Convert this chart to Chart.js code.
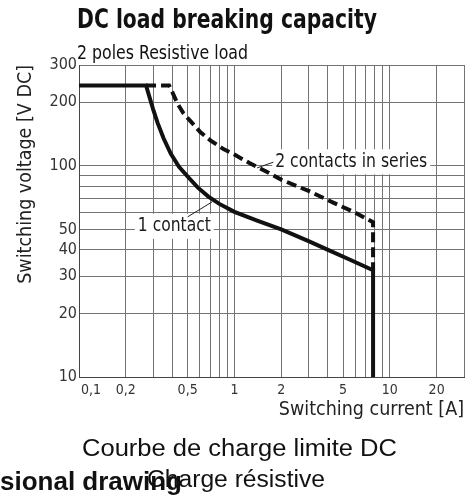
<!DOCTYPE html>
<html>
<head>
<meta charset="utf-8">
<script src="https://cdn.jsdelivr.net/npm/chart.js@4.4.1/dist/chart.umd.min.js"></script>
<style>
html,body{margin:0;padding:0;background:#fff;overflow:hidden;}
#wrap{position:relative;width:474px;height:497px;overflow:hidden;}
#c{position:absolute;left:0;top:0;}
.t{position:absolute;white-space:nowrap;line-height:1.2;color:#111;}
.narrow{font-family:'Liberation Sans Narrow','Arial Narrow','DejaVu Sans Condensed','Roboto Condensed','Liberation Sans',sans-serif;}
.sans{font-family:'Liberation Sans',Arial,Helvetica,sans-serif;}
</style>
</head>
<body>
<div id="wrap">
  <canvas id="c" width="474" height="497"></canvas>
  <div class="t narrow" id="title" style="font-weight:bold;font-size:26px;">DC load breaking capacity</div>
  <div class="t narrow" id="subtitle" style="font-size:19px;">2 poles Resistive load</div>
  <div class="t sans" id="side" style="font-weight:bold;font-size:26px;">sional drawing</div>
  <div class="t sans" id="cap1" style="font-size:23px;">Courbe de charge limite DC</div>
  <div class="t sans" id="cap2" style="font-size:23px;">Charge résistive</div>
</div>
<script>
// ---- data ----
const xTickValues = [0.1,0.2,0.3,0.4,0.5,0.6,0.7,0.8,0.9,1,2,3,4,5,6,7,8,9,10,20,30];
const xLabeledValues = [0.1,0.2,0.5,1,2,5,10,20];
const xLabelTexts = ['0,1','0,2','0,5','1','2','5','10','20'];
const yTickValues = [10,20,30,40,50,60,70,80,90,100,200,300];
const yLabeledValues = [10,20,30,40,50,100,200,300];
const yLabelTexts = ['10','20','30','40','50','100','200','300'];

const oneContactCurrent = [0.1,0.27,0.285,0.30,0.32,0.35,0.39,0.44,0.5,0.58,0.68,0.8,1.0,1.4,2.0,3.0,4.0,5.5,7.8,7.8];
const oneContactVoltage = [240,240,210,185,160,135,114,99,89,79,71.5,66,60.5,55,50,44,40,36,32,10];

const twoContactsCurrent = [0.27,0.38,0.40,0.43,0.47,0.52,0.6,0.7,0.85,1.0,1.25,1.6,2.0,3.0,4.5,6.0,7.8,7.8];
const twoContactsVoltage = [240,240,222,197,177,163,145,132,120,113,103,94,86,76,66,60,54,32];

const seriesNames = ['1 contact','2 contacts in series'];

// annotation anchors in data units (text left / middle, leader start on curve, leader end at text)
const annotations = [
  {text: seriesNames[0], tx: 0.239, ty: 52, fromX: 0.50, fromY: 57.3, toX: 0.72, toY: 67.5, width: 73},
  {text: seriesNames[1], tx: 1.83, ty: 105, fromX: 1.40, fromY: 97.7, toX: 1.78, toY: 104, width: 152}
];

const NARROW = "'Liberation Sans Narrow','Arial Narrow','DejaVu Sans Condensed','Roboto Condensed','Liberation Sans',sans-serif";
const X_TICK_SIZE = 14, X_TICK_PAD = 5;

// ---- html text placement ----
function placeText(id, left, baseline, width) {
  const el = document.getElementById(id);
  const probe = document.createElement('span');
  probe.style.cssText = 'display:inline-block;width:0;height:0;vertical-align:baseline;';
  el.style.left = left + 'px';
  el.style.top = '0px';
  el.appendChild(probe);
  const base = probe.offsetTop;
  el.removeChild(probe);
  const w = el.getBoundingClientRect().width;
  el.style.top = (baseline - base) + 'px';
  el.style.transformOrigin = '0 0';
  el.style.transform = 'scaleX(' + (width / w) + ')';
}
placeText('title', 77, 28, 300);
placeText('subtitle', 77, 59, 171);
placeText('side', 0, 490, 182);
placeText('cap1', 82, 456, 315);
placeText('cap2', 147, 487, 178);

// ---- plugins ----
const annotationPlugin = {
  id: 'annot',
  beforeDatasetsDraw(chart) {
    const {ctx, scales: {x, y}} = chart;
    annotations.forEach(a => {
      const px = x.getPixelForValue(a.tx);
      const py = y.getPixelForValue(a.ty);
      ctx.save();
      ctx.fillStyle = '#fff';
      ctx.fillRect(px - 3, py - 12, a.width + 6, 25);
      ctx.font = '20px ' + NARROW;
      ctx.textBaseline = 'middle';
      ctx.textAlign = 'left';
      const w = ctx.measureText(a.text).width;
      ctx.translate(px, py);
      ctx.scale(a.width / w, 1);
      ctx.fillStyle = '#1a1a1a';
      ctx.fillText(a.text, 0, 0);
      ctx.restore();
      ctx.save();
      ctx.strokeStyle = '#222';
      ctx.lineWidth = 1;
      ctx.beginPath();
      ctx.moveTo(x.getPixelForValue(a.fromX), y.getPixelForValue(a.fromY));
      ctx.lineTo(x.getPixelForValue(a.toX), y.getPixelForValue(a.toY));
      ctx.stroke();
      ctx.restore();
    });
  },
  afterDraw(chart) {
    // first x label, left-aligned at the axis start
    const {ctx, scales: {x}} = chart;
    ctx.save();
    ctx.font = X_TICK_SIZE + 'px ' + NARROW;
    ctx.fillStyle = '#333';
    ctx.textAlign = 'left';
    ctx.textBaseline = 'middle';
    ctx.fillText(xLabelTexts[0], x.getPixelForValue(xLabeledValues[0]) + 2, x.top + X_TICK_PAD + X_TICK_SIZE * 0.6);
    ctx.restore();
  }
};

new Chart(document.getElementById('c'), {
  type: 'line',
  data: {
    datasets: [
      {
        label: seriesNames[0],
        data: oneContactCurrent.map((v, i) => ({x: v, y: oneContactVoltage[i]})),
        borderColor: '#111',
        borderWidth: 4,
        pointRadius: 0,
        tension: 0,
        fill: false,
        borderJoinStyle: 'miter'
      },
      {
        label: seriesNames[1],
        data: twoContactsCurrent.map((v, i) => ({x: v, y: twoContactsVoltage[i]})),
        borderColor: '#111',
        borderWidth: 4,
        borderDash: [10, 5],
        pointRadius: 0,
        tension: 0,
        fill: false
      }
    ]
  },
  options: {
    responsive: false,
    animation: false,
    layout: {padding: {top: 65, right: 10, bottom: 70, left: 0}},
    plugins: {legend: {display: false}, tooltip: {enabled: false}, title: {display: false}},
    scales: {
      x: {
        type: 'logarithmic',
        position: 'bottom',
        min: 0.1,
        max: 30,
        afterBuildTicks: s => { s.ticks = xTickValues.map(v => ({value: v})); },
        afterFit: s => { s.height = 50; },
        grid: {color: '#737373', lineWidth: 1, drawTicks: false},
        border: {color: '#444', width: 1},
        ticks: {
          autoSkip: false, maxRotation: 0, minRotation: 0, padding: X_TICK_PAD, color: '#333',
          font: {family: NARROW, size: X_TICK_SIZE},
          callback: (v) => {
            const i = xLabeledValues.indexOf(v);
            return i > 0 ? xLabelTexts[i] : '';
          }
        },
        title: {
          display: true, text: 'Switching current [A]', align: 'end', color: '#222',
          font: {family: NARROW, size: 19.5, lineHeight: 1},
          padding: {top: 0, bottom: 7.5}
        }
      },
      y: {
        type: 'logarithmic',
        position: 'left',
        min: 10,
        max: 300,
        afterBuildTicks: s => { s.ticks = yTickValues.map(v => ({value: v})); },
        afterFit: s => { s.width = 79; },
        grid: {color: '#737373', lineWidth: 1, drawTicks: false},
        border: {color: '#444', width: 1},
        ticks: {
          autoSkip: false, padding: 2, color: '#333',
          font: {family: NARROW, size: 16},
          callback: (v) => {
            const i = yLabeledValues.indexOf(v);
            return i >= 0 ? yLabelTexts[i] : '';
          }
        },
        title: {
          display: true, text: 'Switching voltage [V DC]', align: 'end', color: '#222',
          font: {family: NARROW, size: 19.5, lineHeight: 1},
          padding: {top: 16.5, bottom: 0}
        }
      }
    }
  },
  plugins: [annotationPlugin]
});
</script>
</body>
</html>
